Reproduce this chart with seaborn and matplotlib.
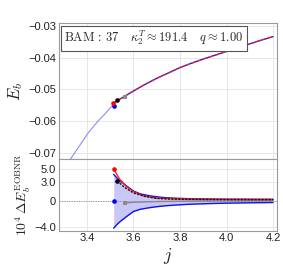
import numpy as np
import pandas as pd
import matplotlib
matplotlib.use("Agg")
import matplotlib.pyplot as plt
import seaborn as sns

sns.set_theme(style="white")
plt.rcParams['font.family'] = ['Liberation Sans', 'DejaVu Sans']
plt.rcParams['mathtext.fontset'] = 'cm'

# ---- data ----
# top panel: binding energy vs j
j_pre = [3.323, 3.36, 3.406, 3.449, 3.477, 3.515]
E_pre = [-0.0727, -0.0687, -0.0637, -0.0599, -0.0578, -0.0546]
j_main = [3.515, 3.55, 3.6, 3.65, 3.7, 3.75, 3.8, 3.85, 3.9, 3.95, 4.0, 4.05, 4.1, 4.15, 4.2]
E_main = [-0.0543, -0.0527, -0.0505, -0.0484, -0.0465, -0.0448, -0.0431, -0.0417, -0.0404,
          -0.0392, -0.0380, -0.0368, -0.0356, -0.0344, -0.0333]
pts_top_j = [3.516, 3.513, 3.530, 3.563]
pts_top_E = [-0.0552, -0.0544, -0.0533, -0.0523]

# bottom panel: 10^4 dE
j_band = [3.515, 3.53, 3.542, 3.57, 3.6, 3.63, 3.67, 3.70, 3.74, 3.79, 3.84, 3.92, 4.0, 4.1, 4.2]
band_up = [4.2, 3.6, 3.2, 2.4, 1.6, 1.15, 0.85, 0.7, 0.55, 0.46, 0.4, 0.35, 0.32, 0.31, 0.3]
band_lo = [-4.2, -3.6, -3.2, -2.4, -1.6, -1.25, -1.0, -0.85, -0.7, -0.57, -0.47, -0.37, -0.3, -0.24, -0.2]
j_red = [3.516, 3.53, 3.542, 3.57, 3.6, 3.643, 3.7, 3.75, 3.8, 3.9, 4.0, 4.1, 4.2]
d_red = [5.0, 4.1, 3.4, 2.3, 1.5, 0.85, 0.5, 0.42, 0.36, 0.32, 0.3, 0.29, 0.28]
j_blk = [3.53, 3.56, 3.6, 3.65, 3.7, 3.75, 3.8, 3.9, 4.0, 4.1, 4.2]
d_blk = [3.2, 2.2, 1.3, 0.75, 0.45, 0.35, 0.3, 0.27, 0.25, 0.25, 0.25]
j_gry = [3.563, 3.6, 3.7, 3.8, 3.9, 4.0, 4.1, 4.2]
d_gry = [-0.27, -0.15, -0.05, 0.0, 0.03, 0.05, 0.08, 0.1]
pts_bot_j = [3.515, 3.516, 3.530, 3.563]
pts_bot_d = [0.0, 5.0, 3.2, -0.27]
pt_colors = ['#0000ff', '#ff0000', '#000000', '#8a8a8a']
pt_marks = ['o', 'o', 'o', 's']
pt_sizes = [11, 11, 11, 8]

fig = plt.figure(figsize=(2.83, 2.77), dpi=100)
L, R = 59/283, 277/283
ax1 = fig.add_axes([L, 1-159/277, R-L, (159-23)/277])
ax2 = fig.add_axes([L, 1-230.7/277, R-L, (230.7-159)/277])

xlim = (3.28, 4.217)
for ax in (ax1, ax2):
    ax.set_xlim(*xlim)
    ax.set_xticks([3.4, 3.6, 3.8, 4.0, 4.2])
    ax.grid(True, color='#e3e3e3', lw=0.6)
    for s in ax.spines.values():
        s.set_color('#9a9a9a'); s.set_linewidth(0.8)
    ax.tick_params(direction='in', length=3, width=0.6, color='#9a9a9a', labelsize=8, pad=2,
                   labelcolor='#222222')
    ax.minorticks_on()
    ax.tick_params(which='minor', direction='in', length=1.5, width=0.4, color='#9a9a9a')

# top panel
sns.lineplot(x=j_pre, y=E_pre, ax=ax1, color='#8c8cff', lw=0.8, sort=False)
sns.lineplot(x=j_main, y=E_main, ax=ax1, color='#2020e0', lw=1.0, sort=False)
sns.lineplot(x=j_main, y=E_main, ax=ax1, color='#ff2020', lw=0.9, sort=False,
             linestyle=(0, (3, 2)))
for jj, ee, cc, mk, sz in zip(pts_top_j, pts_top_E, pt_colors, pt_marks, pt_sizes):
    ax1.scatter([jj], [ee], color=cc, s=sz, marker=mk, zorder=5, lw=0)
ax1.set_ylim(-0.072, -0.029)
ax1.set_yticks([-0.03, -0.04, -0.05, -0.06, -0.07])
ax1.set_yticklabels(['\u22120.03', '\u22120.04', '\u22120.05', '\u22120.06', '\u22120.07'])
ax1.tick_params(labelbottom=False)
ax1.set_ylabel(r'$E_b$', fontsize=12, labelpad=2)
ax1.text(0.025, 0.955, r'$\mathrm{BAM}\,:\,37\quad\, \kappa_2^T\approx191.4\quad\, q\approx1.00$',
         transform=ax1.transAxes, fontsize=9, va='top', ha='left',
         bbox=dict(boxstyle='square,pad=0.25', fc='white', ec='#555555', lw=0.8))

# bottom panel
ax2.axhline(0, color='#888888', lw=0.7, ls=(0, (1, 1.5)))
ax2.fill_between(j_band, band_lo, band_up, color='#c8c8f8', lw=0)
sns.lineplot(x=j_band, y=band_up, ax=ax2, color='#1010f0', lw=1.0, sort=False)
sns.lineplot(x=j_band, y=band_lo, ax=ax2, color='#1010f0', lw=1.0, sort=False)
sns.lineplot(x=j_gry, y=d_gry, ax=ax2, color='#888888', lw=1.0, sort=False)
sns.lineplot(x=j_red, y=d_red, ax=ax2, color='#ff2020', lw=1.0, sort=False)
ax2.plot(j_blk, d_blk, color='#111111', lw=1.0, ls=(0, (1.5, 1)))
for jj, dd, cc, mk, sz in zip(pts_bot_j, pts_bot_d, pt_colors, pt_marks, pt_sizes):
    ax2.scatter([jj], [dd], color=cc, s=sz, marker=mk, zorder=5, lw=0)
ax2.set_ylim(-4.6, 6.6)
ax2.set_yticks([5.0, 3.0, 0, -4.0])
ax2.set_yticklabels(['5.0', '3.0', '0', '\u22124.0'])
ax2.set_ylabel(r'$10^4\,\Delta E_b^{\mathrm{EOBNR}}$', fontsize=10, labelpad=1)
ax2.set_xlabel(r'$j$', fontsize=13, labelpad=2)

fig.savefig('out.png', dpi=100)
